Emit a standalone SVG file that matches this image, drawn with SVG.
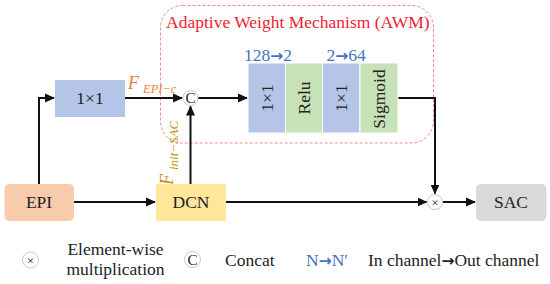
<svg xmlns="http://www.w3.org/2000/svg" width="550" height="284" viewBox="0 0 550 284">
<style>
text{font-family:"Liberation Serif","DejaVu Serif",serif;font-size:17.5px;fill:#222}
.blue{fill:#B4C5E8}
.green{fill:#C7E2B7}
.ln{fill:none;stroke:#111;stroke-width:2}
.circ{fill:#fff;stroke:#C8C8C8;stroke-width:1}
.ch{fill:#4472C4}
.arr{font-family:"DejaVu Sans",sans-serif;font-weight:bold;font-size:15.5px}
.sym{font-size:15px}
</style>
<defs>
<marker id="ah" markerUnits="userSpaceOnUse" markerWidth="10" markerHeight="10" viewBox="0 0 10 10" refX="9" refY="5" orient="auto">
<path d="M0,0.5 L10,5 L0,9.5 z" fill="#111"/>
</marker>
</defs>

<g id="awm">
<rect x="160.5" y="5.5" width="273" height="137.5" rx="22" fill="none" stroke="#F48A8A" stroke-width="1" stroke-dasharray="3,2"/>
<text x="166" y="28" style="fill:#EE2233">Adaptive Weight Mechanism (AWM)</text>
</g>

<g id="connectors">
<polyline class="ln" points="39,184 39,98 54,98" marker-end="url(#ah)"/>
<line class="ln" x1="125" y1="98" x2="182" y2="98" marker-end="url(#ah)"/>
<line class="ln" x1="198" y1="98" x2="247" y2="98" marker-end="url(#ah)"/>
<polyline class="ln" points="398,98 435,98 435,193.5" marker-end="url(#ah)"/>
<line class="ln" x1="74" y1="202" x2="155" y2="202" marker-end="url(#ah)"/>
<line class="ln" x1="190.5" y1="184" x2="190.5" y2="106.5" marker-end="url(#ah)"/>
<line class="ln" x1="226" y1="202" x2="426.5" y2="202" marker-end="url(#ah)"/>
<line class="ln" x1="442.5" y1="202" x2="475" y2="202" marker-end="url(#ah)"/>
</g>

<g id="conv1">
<rect class="blue" x="55" y="80" width="70" height="37"/>
<text x="90" y="104" text-anchor="middle">1×1</text>
</g>

<g id="concat">
<circle class="circ" cx="190.5" cy="98" r="7.5"/>
<text class="sym" x="190.5" y="103" text-anchor="middle">C</text>
</g>

<g id="awm-conv1">
<rect class="blue" x="248" y="63" width="37.5" height="70" stroke="#fff" stroke-width="1"/>
<text transform="translate(266.75,98) rotate(-90)" text-anchor="middle" dy="0.33em">1×1</text>
</g>
<g id="relu">
<rect class="green" x="285.5" y="63" width="37" height="70" stroke="#fff" stroke-width="1"/>
<text transform="translate(304,98) rotate(-90)" text-anchor="middle" dy="0.33em">Relu</text>
</g>
<g id="awm-conv2">
<rect class="blue" x="322.5" y="63" width="37.5" height="70" stroke="#fff" stroke-width="1"/>
<text transform="translate(341.25,98) rotate(-90)" text-anchor="middle" dy="0.33em">1×1</text>
</g>
<g id="sigmoid">
<rect class="green" x="360" y="63" width="38" height="70" stroke="#fff" stroke-width="1"/>
<text transform="translate(379,99) rotate(-90)" text-anchor="middle" dy="0.33em">Sigmoid</text>
</g>

<g id="ch-labels">
<text class="ch" x="268" y="60.5" text-anchor="middle">128<tspan class="arr">→</tspan>2</text>
<text class="ch" x="346" y="60.5" text-anchor="middle">2<tspan class="arr">→</tspan>64</text>
</g>

<g id="feat-labels">
<text x="128" y="89" style="fill:#ED7D31;font-style:italic;font-size:18px">F<tspan x="143" y="93" style="font-size:12.5px">EPI−c</tspan></text>
<text transform="translate(173,185) rotate(-90)" style="fill:#BF9000;font-style:italic;font-size:18px">F<tspan x="15" y="5" style="font-size:13px">init−SAC</tspan></text>
</g>

<g id="epi">
<rect x="4.5" y="184" width="69.5" height="37" rx="5" fill="#F8CBAD"/>
<text x="39" y="208" text-anchor="middle">EPI</text>
</g>
<g id="dcn">
<rect x="156" y="184" width="70" height="37" fill="#FFE699"/>
<text x="191" y="208" text-anchor="middle">DCN</text>
</g>
<g id="mult">
<circle class="circ" cx="435" cy="202" r="7.5"/>
<text x="435" y="206.5" text-anchor="middle" style="font-size:13px">×</text>
</g>
<g id="sac">
<rect x="476" y="184" width="70.5" height="37" rx="5" fill="#D9D9D9"/>
<text x="511" y="208" text-anchor="middle">SAC</text>
</g>

<g id="legend">
<circle class="circ" cx="30.5" cy="260" r="8"/>
<text x="30.5" y="264.5" text-anchor="middle" style="font-size:13px">×</text>
<text x="115.5" y="254.5" text-anchor="middle">Element-wise</text>
<text x="115.5" y="275" text-anchor="middle">multiplication</text>
<circle class="circ" cx="192.5" cy="259.5" r="8"/>
<text class="sym" x="192.5" y="264.5" text-anchor="middle">C</text>
<text x="225" y="265.5">Concat</text>
<text class="ch" x="306" y="266">N<tspan class="arr">→</tspan>N′</text>
<text x="368" y="266">In channel<tspan class="arr">→</tspan>Out channel</text>
</g>
</svg>
